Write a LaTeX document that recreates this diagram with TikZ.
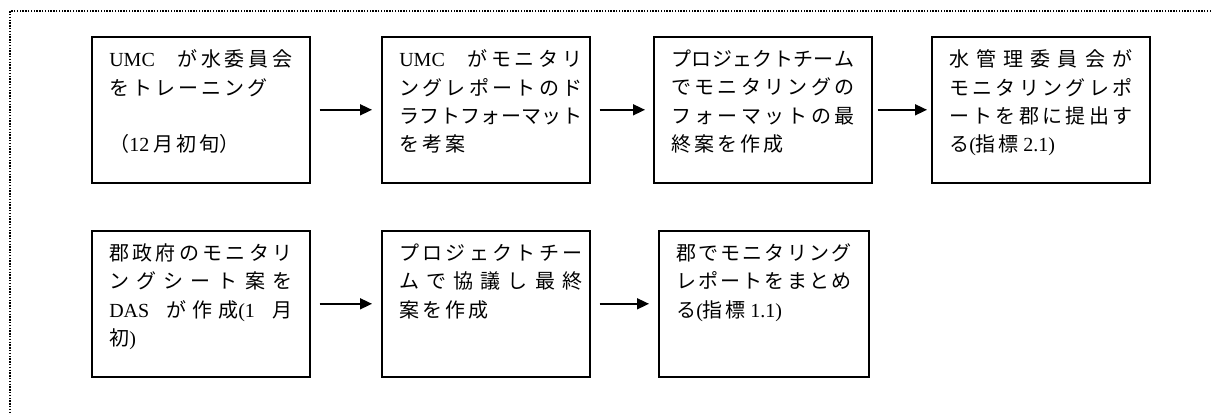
\documentclass[tikz,border=0pt]{standalone}
\usepackage{fontspec}
\setmainfont{Noto Sans CJK JP}
\newfontfamily\lat{Liberation Serif}
\usetikzlibrary{arrows.meta}
\newcommand\f{\hfill}
\newcommand\g{\hspace{3bp}}
\newcommand\J[1]{\makebox[\linewidth][s]{#1}}
\newcommand\boxtxt[3]{\parbox[c][146bp][t]{#1}{\vspace*{13bp}\noindent\hspace*{17.5bp}\parbox[t]{#2}{\fontsize{20bp}{28.3bp}\selectfont\raggedright #3}}}
\tikzset{
  box/.style={draw, line width=1.6bp, inner sep=0pt, anchor=north west},
  arr/.style={line width=1.6bp, -{Triangle[length=12bp,width=11bp]}},
  frame/.style={line width=1.4bp, dash pattern=on 1.4bp off 1.4bp}
}
\begin{document}
\begin{tikzpicture}[x=1bp,y=-1bp]
\useasboundingbox (0,0) rectangle (1211,414);
\coordinate (fa) at (1211,11);
\coordinate (fc) at (10,11);
\coordinate (fb) at (10,414);
\draw[frame] (fa) -- (fc) -- (fb);

\node[box] (b1) at (91,36) {\boxtxt{218bp}{183bp}{%
\J{{\lat UMC}\hspace{0pt plus 6fill}が\f 水\f 委\f 員\f 会}\\
を\g ト\g レ\g ー\g ニ\g ン\g グ\\
\mbox{}\\
（{\lat 12} 月\g 初\g 旬）}};

\node[box] (b2) at (381,36) {\boxtxt{208bp}{183bp}{%
\J{{\lat UMC}\hspace{0pt plus 6fill}が\f モ\f ニ\f タ\f リ}\\
\J{ン\f グ\f レ\f ポ\f ー\f ト\f の\f ド}\\
\J{ラ\f フ\f ト\f フ\f ォ\f ー\f マ\f ッ\f ト}\\
を\g 考\g 案}};

\node[box] (b3) at (653,36) {\boxtxt{218bp}{183bp}{%
\J{プ\f ロ\f ジ\f ェ\f ク\f ト\f チ\f ー\f ム}\\
\J{で\f モ\f ニ\f タ\f リ\f ン\f グ\f の}\\
\J{フ\f ォ\f ー\f マ\f ッ\f ト\f の\f 最}\\
終\g 案\g を\g 作\g 成}};

\node[box] (b4) at (931,36) {\boxtxt{218bp}{183bp}{%
\J{水\f 管\f 理\f 委\f 員\f 会\f が}\\
\J{モ\f ニ\f タ\f リ\f ン\f グ\f レ\f ポ}\\
\J{ー\f ト\f を\f 郡\f に\f 提\f 出\f す}\\
る{\lat (}指\g 標 {\lat 2.1)}}};

\node[box] (b5) at (91,230) {\boxtxt{218bp}{183bp}{%
\J{郡\f 政\f 府\f の\f モ\f ニ\f タ\f リ}\\
\J{ン\f グ\f シ\f ー\f ト\f 案\f を}\\
\J{{\lat DAS}\hspace{0pt plus 3fill}が\f 作\f 成{\lat (1}\hspace{0pt plus 3fill}月}\\
初{\lat )}}};

\node[box] (b6) at (381,230) {\boxtxt{208bp}{183bp}{%
\J{プ\f ロ\f ジ\f ェ\f ク\f ト\f チ\f ー}\\
\J{ム\f で\f 協\f 議\f し\f 最\f 終}\\
案\g を\g 作\g 成}};

\node[box] (b7) at (658,230) {\boxtxt{210bp}{175bp}{%
\J{郡\f で\f モ\f ニ\f タ\f リ\f ン\f グ}\\
\J{レ\f ポ\f ー\f ト\f を\f ま\f と\f め}\\
る{\lat (}指\g 標 {\lat 1.1)}}};

\draw[arr] ([xshift=9bp]b1.east) -- ([xshift=-9bp]b2.west);
\draw[arr] ([xshift=9bp]b2.east) -- ([xshift=-8bp]b3.west);
\draw[arr] ([xshift=5bp]b3.east) -- ([xshift=-4bp]b4.west);
\draw[arr] ([xshift=9bp]b5.east) -- ([xshift=-9bp]b6.west);
\draw[arr] ([xshift=9bp]b6.east) -- ([xshift=-9bp]b7.west);
\end{tikzpicture}
\end{document}
